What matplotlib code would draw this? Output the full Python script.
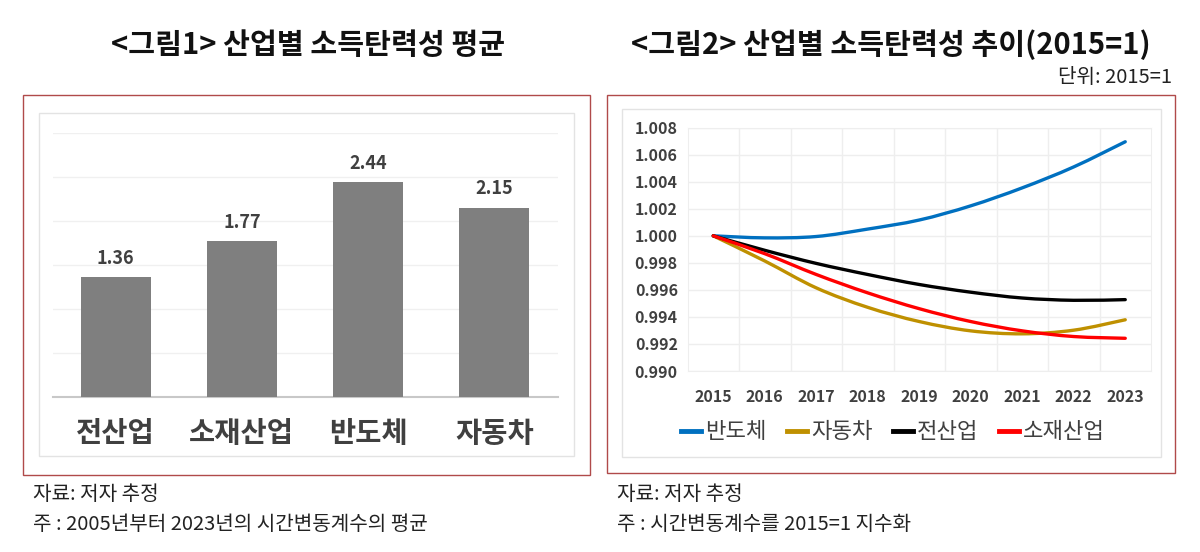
import matplotlib
matplotlib.use("Agg")
import matplotlib.pyplot as plt
from matplotlib.patches import Rectangle, PathPatch
from matplotlib.path import Path
from matplotlib.lines import Line2D
import numpy as np

plt.rcParams['font.family'] = ['Noto Sans CJK KR', 'DejaVu Sans']

# ---- data ----
bar_categories = ['전산업', '소재산업', '반도체', '자동차']
bar_values = [1.36, 1.77, 2.44, 2.15]

years = [2015, 2016, 2017, 2018, 2019, 2020, 2021, 2022, 2023]
semis = [1.0000, 0.99985, 0.99995, 1.0005, 1.00117, 1.00222, 1.00355, 1.0051, 1.00696]
autos = [1.0000, 0.99814, 0.99615, 0.99471, 0.99366, 0.99297, 0.99275, 0.99302, 0.99379]
allind = [1.0000, 0.99893, 0.99796, 0.99714, 0.99640, 0.99583, 0.99540, 0.99523, 0.99528]
materials = [1.0000, 0.99868, 0.99714, 0.99578, 0.99461, 0.99366, 0.99297, 0.99255, 0.99242]
series_names = ['반도체', '자동차', '전산업', '소재산업']
series_colors = ['#0070C0', '#BF9000', '#000000', '#FF0000']
yticks_r = [0.990, 0.992, 0.994, 0.996, 0.998, 1.000, 1.002, 1.004, 1.006, 1.008]

W, H = 1200, 552
fig = plt.figure(figsize=(W / 100, H / 100), dpi=100)


def frac_rect(x0, y0, x1, y1, **kw):
    # pixel box (top-down y) -> figure rectangle
    r = Rectangle((x0 / W, 1 - y1 / H), (x1 - x0) / W, (y1 - y0) / H,
                  transform=fig.transFigure, fill=False, **kw)
    fig.patches.append(r)


# frames
frac_rect(23, 95, 590, 475, edgecolor='#b04a4a', linewidth=1.0)
frac_rect(607, 95, 1175, 473, edgecolor='#b04a4a', linewidth=1.0)
frac_rect(38.5, 112.7, 573.5, 456, edgecolor='#e3e3e3', linewidth=1.0)
frac_rect(622, 109, 1161, 456.7, edgecolor='#e3e3e3', linewidth=1.0)

# ---- left: bar chart ----
axL = fig.add_axes([52.5 / W, 1 - 396.7 / H, 505 / W, (396.7 - 133.3) / H])
x = np.arange(len(bar_categories))
axL.bar(x, bar_values, width=0.555, color='#7f7f7f', zorder=3)
axL.set_xlim(-0.5, 3.5)
axL.set_ylim(0, 3.0)
axL.set_yticks(np.arange(0, 3.01, 0.5))
axL.yaxis.grid(True, color='#f0f0f0', linewidth=1.0, zorder=0)
axL.tick_params(axis='y', left=False, labelleft=False)
axL.tick_params(axis='x', bottom=False, pad=13)
axL.set_xticks(x)
axL.set_xticklabels(bar_categories, fontsize=20.5, fontweight='bold', color='#404040')
for s in ['top', 'right', 'left']:
    axL.spines[s].set_visible(False)
axL.spines['bottom'].set_color('#c8c8c8')
axL.spines['bottom'].set_linewidth(1.5)
for xi, v in zip(x, bar_values):
    axL.annotate(f'{v:.2f}', (xi, v), xytext=(0, 7), textcoords='offset points',
                 ha='center', va='bottom', fontsize=13, fontweight='bold', color='#404040')

# ---- right: line chart ----
axR = fig.add_axes([687.5 / W, 1 - 371 / H, (1151 - 687.5) / W, (371 - 127.7) / H])
axR.set_xlim(2014.5, 2023.5)
axR.set_ylim(0.990, 1.008)
axR.set_yticks(yticks_r)
axR.set_yticklabels([f'{t:.3f}' for t in yticks_r], fontsize=11.5, fontweight='bold', color='#404040')
axR.set_xticks(years)
axR.set_xticklabels([str(y) for y in years], fontsize=11.5, fontweight='bold', color='#404040')
axR.set_xticks(np.arange(2015.5, 2023.5, 1.0), minor=True)
axR.tick_params(axis='both', which='both', length=0)
axR.tick_params(axis='x', pad=13)
axR.tick_params(axis='y', pad=7)
axR.yaxis.grid(True, color='#eeeeee', linewidth=1.0)
axR.xaxis.grid(True, which='minor', color='#eeeeee', linewidth=1.0)
for s in axR.spines.values():
    s.set_color('#eeeeee')


def smooth_path(xs, ys):
    xs = np.asarray(xs, float)
    ys = np.asarray(ys, float)
    pts = np.column_stack([xs, ys])
    n = len(pts)
    verts = [pts[0]]
    codes = [Path.MOVETO]
    for i in range(n - 1):
        p0 = pts[i - 1] if i > 0 else pts[i]
        p1 = pts[i]
        p2 = pts[i + 1]
        p3 = pts[i + 2] if i + 2 < n else pts[i + 1]
        c1 = p1 + (p2 - p0) / 6.0
        c2 = p2 - (p3 - p1) / 6.0
        verts += [c1, c2, p2]
        codes += [Path.CURVE4] * 3
    return Path(verts, codes)


all_series = [semis, autos, allind, materials]
for vals, col in zip(all_series, series_colors):
    patch = PathPatch(smooth_path(years, vals), facecolor='none', edgecolor=col,
                      linewidth=2.4, capstyle='round', joinstyle='round', zorder=3)
    axR.add_patch(patch)

handles = [Line2D([0], [0], color=c, linewidth=3.5) for c in series_colors]
fig.legend(handles, series_names, loc='center', bbox_to_anchor=(893 / W, 1 - 432 / H),
           ncol=4, frameon=False, fontsize=16, handlelength=0.9, handletextpad=0.2,
           columnspacing=0.9, labelcolor='#404040')

# ---- titles and notes ----
fig.text(308 / W, 1 - 45 / H, '<그림1> 산업별 소득탄력성 평균', ha='center', va='center',
         fontsize=21, fontweight='bold', color='#111111')
fig.text(891 / W, 1 - 45 / H, '<그림2> 산업별 소득탄력성 추이(2015=1)', ha='center', va='center',
         fontsize=21, fontweight='bold', color='#111111')
fig.text(1172 / W, 1 - 77 / H, '단위: 2015=1', ha='right', va='center', fontsize=14.5, color='#222222')

fig.text(33 / W, 1 - 494 / H, '자료: 저자 추정', ha='left', va='center', fontsize=14.5, color='#222222')
fig.text(33 / W, 1 - 525 / H, '주 : 2005년부터 2023년의 시간변동계수의 평균', ha='left', va='center',
         fontsize=14.5, color='#222222')
fig.text(617 / W, 1 - 494 / H, '자료: 저자 추정', ha='left', va='center', fontsize=14.5, color='#222222')
fig.text(617 / W, 1 - 525 / H, '주 : 시간변동계수를 2015=1 지수화', ha='left', va='center',
         fontsize=14.5, color='#222222')

fig.savefig('out.png', dpi=100, facecolor='white')
